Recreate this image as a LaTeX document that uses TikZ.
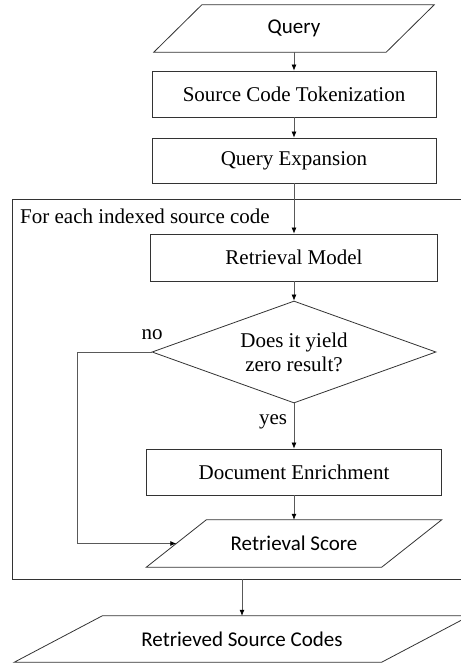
\documentclass[tikz,border=0pt]{standalone}
\usepackage{fontspec}
\setmainfont{Liberation Serif}
\newfontfamily\calfont{Carlito}
\usetikzlibrary{shapes.geometric,arrows.meta}
\begin{document}
\begin{tikzpicture}[x=1pt,y=-1pt,
  boxline/.style={draw=black!80,line width=0.8pt},
  procbox/.style={boxline,rectangle,inner sep=0pt,font=\fontsize{21}{24}\selectfont},
  parabody/.style={rectangle,inner sep=0pt,font=\calfont\fontsize{21}{24}\selectfont},
  decbox/.style={boxline,diamond,inner sep=0pt,aspect=2.78,align=center,font=\fontsize{21}{24}\selectfont},
  arr/.style={draw=black!65,line width=0.7pt,-{Latex[length=6pt,width=5pt,color=black]}},
  lbl/.style={inner sep=0pt,font=\fontsize{21}{24}\selectfont}]
\useasboundingbox (0,0) rectangle (461,665);
\newcommand\paradraw[2]{\draw[boxline] ([xshift=-#2]#1.south west) -- ([xshift=#2]#1.north west) -- ([xshift=#2]#1.north east) -- ([xshift=-#2]#1.south east) -- cycle;}
% outer loop box
\node[boxline,rectangle,minimum width=458,minimum height=380,inner sep=0pt] (loop) at (241,389) {};
\node[lbl,anchor=west] (looplbl) at (20,216) {For each indexed source code};
% nodes
\node[parabody,minimum width=232,minimum height=47] (q) at (294,28.5) {Query};
\paradraw{q}{24pt}
\node[procbox,minimum width=284,minimum height=46] (sct) at (294,94) {Source Code Tokenization};
\node[procbox,minimum width=284,minimum height=45] (qe) at (294,160.5) {Query Expansion};
\node[procbox,minimum width=287,minimum height=47] (rm) at (294,257.5) {Retrieval Model};
\node[decbox,minimum width=284,minimum height=102] (dia) at (294,352) {Does it yield\\zero result?};
\node[procbox,minimum width=295,minimum height=46] (de) at (294,472) {Document Enrichment};
\node[parabody,minimum width=235,minimum height=47] (rs) at (294,543.5) {Retrieval Score};
\paradraw{rs}{30pt}
\node[parabody,minimum width=367,minimum height=46] (rsc) at (242,639) {Retrieved Source Codes};
\paradraw{rsc}{44pt}
% labels
\node[lbl] (nolbl) at (152,335) {no};
\node[lbl] (yeslbl) at (273,422) {yes};
% connectors
\draw[arr] (q) -- (sct);
\draw[arr] (sct) -- (qe);
\draw[arr] (qe) -- (rm);
\draw[arr] (rm) -- (dia);
\draw[arr] (dia) -- (de);
\draw[arr] (de) -- (rs);
\draw[arr] (dia.west) -- ++(-74,0) |- (rs.west);
\draw[arr] (loop.south -| rsc.north) -- (rsc);
\end{tikzpicture}
\end{document}
